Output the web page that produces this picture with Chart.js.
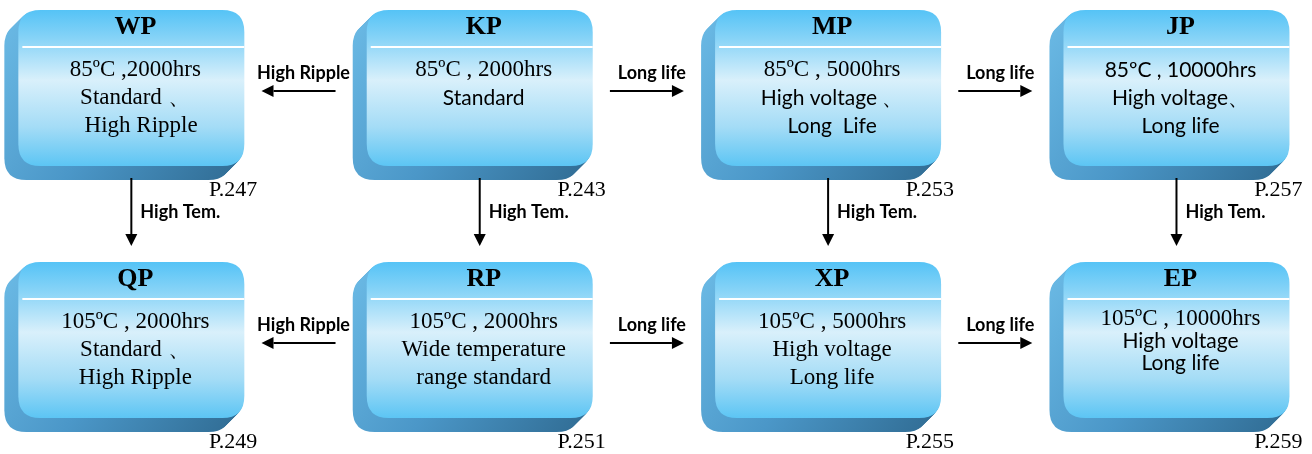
<!DOCTYPE html>
<html>
<head>
<meta charset="utf-8">
<script src="https://cdn.jsdelivr.net/npm/chart.js@4/dist/chart.umd.min.js"></script>
<style>
  html, body { margin: 0; padding: 0; background: #fff; }
  #wrap { width: 1312px; height: 454px; }
</style>
</head>
<body>
<div id="wrap"><canvas id="myChart" width="1312" height="454"></canvas></div>
<script>
// series nodes, laid out on a 4 x 2 grid
var nodes = ['WP', 'KP', 'MP', 'JP', 'QP', 'RP', 'XP', 'EP']
var nodeCol = [0, 1, 2, 3, 0, 1, 2, 3]
var nodeRow = [0, 0, 0, 0, 1, 1, 1, 1]
var ratings = ['85ºC ,2000hrs', '85ºC , 2000hrs', '85ºC , 5000hrs', '85ºC , 10000hrs',
               '105ºC , 2000hrs', '105ºC , 2000hrs', '105ºC , 5000hrs', '105ºC , 10000hrs']
var features = [
  ['Standard 、', '  High Ripple'],
  ['Standard'],
  ['High voltage 、', 'Long  Life'],
  ['High voltage、', 'Long life'],
  ['Standard 、', 'High Ripple'],
  ['Wide temperature', 'range standard'],
  ['High voltage', 'Long life'],
  ['High voltage', 'Long life']
]
var pages = ['P.247', 'P.243', 'P.253', 'P.257', 'P.249', 'P.251', 'P.255', 'P.259']

// arrows between series
var linkFrom = [1, 1, 2, 0, 1, 2, 3, 5, 5, 6]
var linkTo = [0, 2, 3, 4, 5, 6, 7, 4, 6, 7]
var linkLabel = ['High Ripple', 'Long life', 'Long life', 'High Tem.', 'High Tem.',
                 'High Tem.', 'High Tem.', 'High Ripple', 'Long life', 'Long life']

// which text lines use the sans face (rating line, feature lines)
var sansRating = [false, false, false, true, false, false, false, false]
var sansFeature = [false, true, true, true, false, false, false, true]

var SERIF = '"Liberation Serif", "Times New Roman", serif'
var SANS = 'Lato, "Open Sans", sans-serif'
var W = 226, H = 156, D = 14, R = 22

function roundRect(ctx, x, y, w, h, r) {
  ctx.beginPath()
  ctx.moveTo(x + r, y)
  ctx.lineTo(x + w - r, y)
  ctx.quadraticCurveTo(x + w, y, x + w, y + r)
  ctx.lineTo(x + w, y + h - r)
  ctx.quadraticCurveTo(x + w, y + h, x + w - r, y + h)
  ctx.lineTo(x + r, y + h)
  ctx.quadraticCurveTo(x, y + h, x, y + h - r)
  ctx.lineTo(x, y + r)
  ctx.quadraticCurveTo(x, y, x + r, y)
  ctx.closePath()
}

function arrow(ctx, x1, y1, x2, y2) {
  var a = Math.atan2(y2 - y1, x2 - x1)
  var hl = 12, hw = 6
  ctx.strokeStyle = '#000'
  ctx.fillStyle = '#000'
  ctx.lineWidth = 2
  ctx.beginPath()
  ctx.moveTo(x1, y1)
  ctx.lineTo(x2 - hl * Math.cos(a), y2 - hl * Math.sin(a))
  ctx.stroke()
  ctx.beginPath()
  ctx.moveTo(x2, y2)
  ctx.lineTo(x2 - hl * Math.cos(a) - hw * Math.sin(a), y2 - hl * Math.sin(a) + hw * Math.cos(a))
  ctx.lineTo(x2 - hl * Math.cos(a) + hw * Math.sin(a), y2 - hl * Math.sin(a) - hw * Math.cos(a))
  ctx.closePath()
  ctx.fill()
}

var boxPlugin = {
  id: 'boxes',
  afterDatasetsDraw: function(chart) {
    var ctx = chart.ctx
    var pts = chart.getDatasetMeta(0).data
    ctx.save()

    // boxes
    pts.forEach(function(p, i) {
      var x = p.x - W / 2, y = p.y - H / 2
      // extruded side
      var sg = ctx.createLinearGradient(x - D, y, x + W, y + H + D)
      sg.addColorStop(0, '#6cbbe6')
      sg.addColorStop(0.5, '#4b97c8')
      sg.addColorStop(1, '#2f6a91')
      ctx.fillStyle = sg
      for (var k = D; k > 0; k--) {
        roundRect(ctx, x - k, y + k, W, H, R)
        ctx.fill()
      }
      // face
      var g = ctx.createLinearGradient(0, y, 0, y + H)
      g.addColorStop(0, '#55c3f6')
      g.addColorStop(0.18, '#86d3f7')
      g.addColorStop(0.45, '#d9f0fb')
      g.addColorStop(0.75, '#a4dcf6')
      g.addColorStop(1, '#5cc5f4')
      ctx.fillStyle = g
      roundRect(ctx, x, y, W, H, R)
      ctx.fill()

      // title + separator
      ctx.fillStyle = '#000'
      ctx.textAlign = 'center'
      ctx.textBaseline = 'middle'
      ctx.font = 'bold 26px ' + SERIF
      ctx.fillText(nodes[i], p.x + 4, y + 17)
      ctx.strokeStyle = '#fff'
      ctx.lineWidth = 2
      ctx.beginPath()
      ctx.moveTo(x + 4, y + 37)
      ctx.lineTo(x + W, y + 37)
      ctx.stroke()

      // body text
      var tight = nodes[i] === 'EP'
      var lh = tight ? 22 : 28
      var ty = y + (tight ? 57 : 60)
      ctx.font = (sansRating[i] ? '21px ' + SANS : '23px ' + SERIF)
      ctx.fillText(ratings[i], p.x + 4, ty)
      ctx.font = (sansFeature[i] ? '21px ' + SANS : '23px ' + SERIF)
      features[i].forEach(function(t, j) {
        ctx.fillText(t, p.x + 4, ty + lh * (j + 1))
      })

      // page ref
      ctx.textAlign = 'right'
      ctx.font = '22px ' + SERIF
      ctx.fillText(pages[i], x + W + 13, y + H + 24)
    })

    // links
    linkFrom.forEach(function(f, i) {
      var a = pts[f], b = pts[linkTo[i]]
      ctx.fillStyle = '#000'
      ctx.font = 'bold 18px ' + SANS
      ctx.textBaseline = 'middle'
      if (nodeRow[f] === nodeRow[linkTo[i]]) {
        var left = Math.min(a.x, b.x), right = Math.max(a.x, b.x)
        var gs = left + W / 2, ge = right - W / 2 - D
        var mid = (gs + ge) / 2
        var ay = a.y + 3
        if (b.x < a.x) arrow(ctx, mid + 37, ay, mid - 37, ay)
        else arrow(ctx, mid - 37, ay, mid + 37, ay)
        ctx.textAlign = 'center'
        ctx.fillText(linkLabel[i], mid + 5, ay - 18)
      } else {
        var y1 = a.y + H / 2 + D - 2, y2 = b.y - H / 2 - 16
        arrow(ctx, a.x, y1, a.x, y2)
        ctx.textAlign = 'left'
        ctx.fillText(linkLabel[i], a.x + 9, (y1 + y2) / 2)
      }
    })
    ctx.restore()
  }
}

var chart = new Chart(document.getElementById('myChart').getContext('2d'), {
  type: 'scatter',
  data: {
    datasets: [{
      label: 'series',
      data: nodes.map(function(n, i) { return { x: nodeCol[i], y: nodeRow[i] } }),
      pointRadius: 0
    }]
  },
  options: {
    responsive: false,
    animation: false,
    layout: { padding: 0 },
    plugins: { legend: { display: false }, tooltip: { enabled: false } },
    scales: {
      x: { type: 'linear', display: false, min: -0.377, max: 3.389 },
      y: { type: 'linear', display: false, reverse: true, min: -0.349, max: 1.452 }
    }
  },
  plugins: [boxPlugin]
})
</script>
</body>
</html>
